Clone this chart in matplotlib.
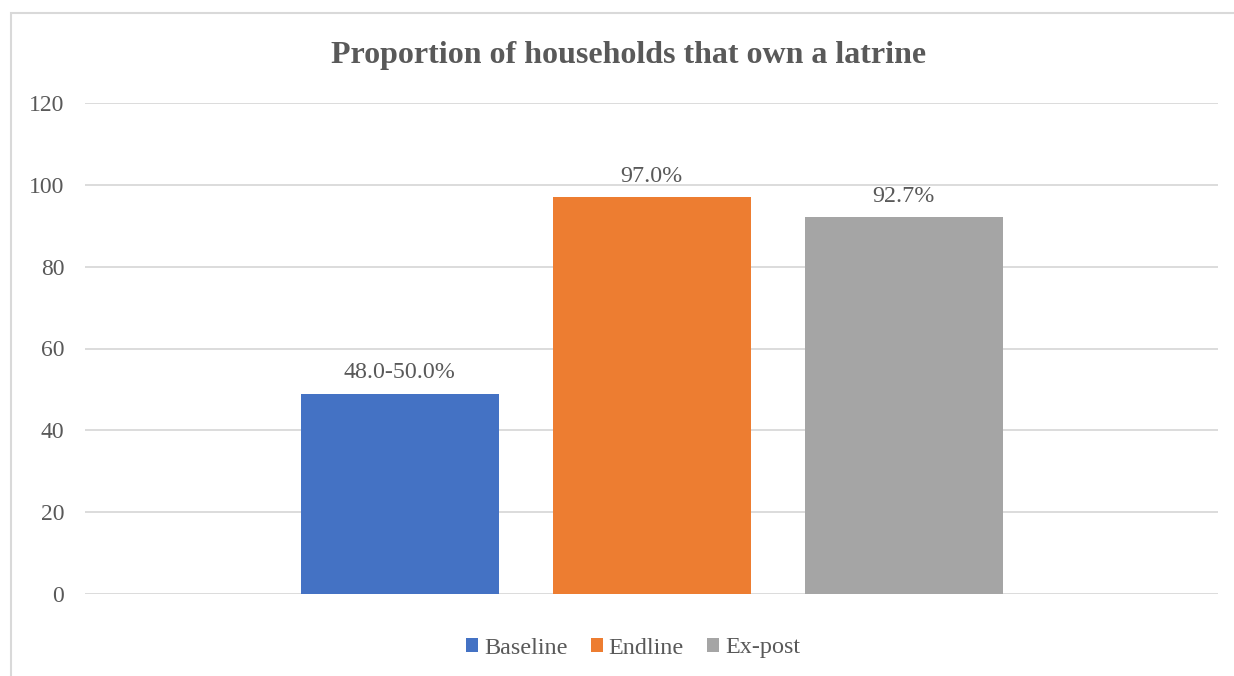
import matplotlib.pyplot as plt
from matplotlib.patches import Rectangle

# data
series = ["Baseline", "Endline", "Ex-post"]
values = [49.0, 97.0, 92.2]
labels = ["48.0-50.0%", "97.0%", "92.7%"]
colors = ["#4472C4", "#ED7D31", "#A5A5A5"]
yticks = [0, 20, 40, 60, 80, 100, 120]

plt.rcParams['font.family'] = ['Liberation Serif', 'DejaVu Serif']
txt = "#595959"

W, H = 1234, 676
fig = plt.figure(figsize=(W / 100, H / 100), dpi=100)

# chart border (cut off at right and bottom like the screenshot)
fig.add_artist(Rectangle((11 / W, -0.1), 1.2, 1 - 13 / H + 0.1,
                         transform=fig.transFigure, fill=False,
                         edgecolor="#D9D9D9", linewidth=1.5))

ax = fig.add_axes([85 / W, 1 - 594 / H, (1218 - 85) / W, (594 - 103) / H])

pos = [-1, 0, 1]
width = 198 / 252
for x, v, lab, c, name in zip(pos, values, labels, colors, series):
    ax.bar(x, v, width=width, color=c, label=name, zorder=3)
    ax.text(x, v + 2.5, lab, ha="center", va="bottom", fontsize=17.3, color=txt)

ax.set_xlim(-566.5 / 252, 566.5 / 252)
ax.set_ylim(0, 120)
ax.set_yticks(yticks)
ax.set_yticklabels([str(t) for t in yticks], fontsize=17, color=txt)
ax.set_xticks([])
ax.tick_params(axis="y", length=0, pad=15)
ax.grid(axis="y", color="#D9D9D9", linewidth=1.3, zorder=0)
for s in ax.spines.values():
    s.set_visible(False)

fig.text(629 / W, 1 - 55 / H, "Proportion of households that own a latrine",
         ha="center", va="center", fontsize=23, fontweight="bold", color=txt)

leg = fig.legend(loc="center", bbox_to_anchor=(633 / W, 1 - 648 / H), ncol=3,
                 frameon=False, fontsize=17.4, handlelength=0.5, handleheight=0.5,
                 handletextpad=0.25, columnspacing=0.95)
for t in leg.get_texts():
    t.set_color(txt)

fig.savefig("out.png", dpi=100)
